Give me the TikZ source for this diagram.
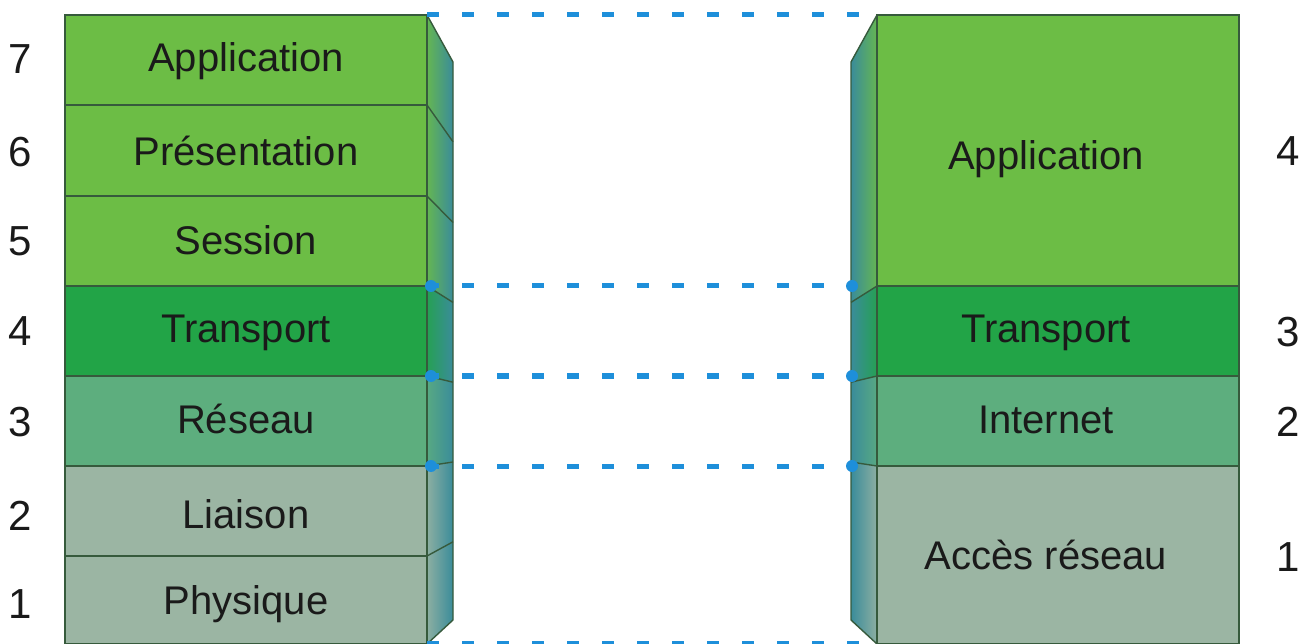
\documentclass[tikz,border=0pt]{standalone}
\usepackage{fontspec}
\setmainfont{Liberation Sans}
\definecolor{appg}{HTML}{6CBD45}
\definecolor{trg}{HTML}{22A447}
\definecolor{netg}{HTML}{5DAE7E}
\definecolor{phyg}{HTML}{9BB5A3}
\definecolor{sideteal}{HTML}{3A8C9A}
\definecolor{edgec}{HTML}{365A3C}
\definecolor{dotblue}{HTML}{1E8FDA}
\definecolor{txt}{HTML}{1A1A1A}
\begin{document}
\begin{tikzpicture}[x=1pt,y=-1pt,
  face/.style={draw=edgec, line width=1.6pt},
  edgeline/.style={draw=edgec, line width=1.4pt},
  lbl/.style={anchor=base, text=txt, inner sep=0pt, font=\fontsize{40}{44}\selectfont},
  num/.style={anchor=base, text=txt, inner sep=0pt, font=\fontsize{42}{46}\selectfont},
  link/.style={draw=dotblue, line width=5pt, dash pattern=on 12pt off 23pt},
  enddot/.style={fill=dotblue}]
\useasboundingbox (0,0) rectangle (1307,644);

% ---------- left stack (7 layers) ----------
\foreach \t/\b/\ft/\fb/\col in {15/105/62/141.8/appg, 105/196/141.8/222.5/appg, 196/286/222.5/302.4/appg, 286/376/302.4/382.2/trg, 376/466/382.2/462/netg, 466/556/462/541.8/phyg, 556/644/541.8/620/phyg}{
  \filldraw[face, fill=\col] (65,\t) rectangle (427,\b);
  \shade[left color=\col!85!sideteal, right color=sideteal] (427,\t) -- (453,\ft) -- (453,\fb) -- (427,\b) -- cycle;
  \draw[edgeline] (427,\t) -- (453,\ft);
}
\draw[edgeline] (453,62) -- (453,620) -- (427,644);
\draw[edgeline] (427,15) -- (427,644);

% ---------- right stack (4 layers) ----------
\foreach \t/\b/\ft/\fb/\col in {15/286/62/302.4/appg, 286/376/302.4/382.2/trg, 376/466/382.2/462/netg, 466/644/462/620/phyg}{
  \filldraw[face, fill=\col] (877,\t) rectangle (1239,\b);
  \shade[left color=sideteal, right color=\col!85!sideteal] (877,\t) -- (851,\ft) -- (851,\fb) -- (877,\b) -- cycle;
  \draw[edgeline] (877,\t) -- (851,\ft);
}
\draw[edgeline] (851,62) -- (851,620) -- (877,644);
\draw[edgeline] (877,15) -- (877,644);

% ---------- labels ----------
\node[lbl] (l7) at (246,72) {Application};
\node[lbl] (l6) at (246,166) {Présentation};
\node[lbl] (l5) at (246,255) {Session};
\node[lbl] (l4) at (246,343) {Transport};
\node[lbl] (l3) at (246,433) {Réseau};
\node[lbl] (l2) at (246,528) {Liaison};
\node[lbl] (l1) at (246,614) {Physique};

\node[lbl] (r4) at (1046,170) {Application};
\node[lbl] (r3) at (1046,343) {Transport};
\node[lbl] (r2) at (1046,433) {Internet};
\node[lbl] (r1) at (1046,569) {Accès réseau};

% ---------- layer numbers ----------
\node[num] (n7) at (20,74) {7};
\node[num] (n6) at (20,167) {6};
\node[num] (n5) at (20,256) {5};
\node[num] (n4) at (20,346) {4};
\node[num] (n3) at (20,436) {3};
\node[num] (n2) at (20,530) {2};
\node[num] (n1) at (20,618) {1};

\node[num] (m4) at (1288,166) {4};
\node[num] (m3) at (1288,347) {3};
\node[num] (m2) at (1288,436) {2};
\node[num] (m1) at (1288,571) {1};

% ---------- correspondence lines ----------
\coordinate (La) at (427,15);   \coordinate (Ra) at (877,15);
\coordinate (Lb) at (427,286);  \coordinate (Rb) at (851,286);
\coordinate (Lc) at (427,376);  \coordinate (Rc) at (851,376);
\coordinate (Ld) at (427,466);  \coordinate (Rd) at (851,466);
\coordinate (Le) at (427,643);  \coordinate (Re) at (877,643);

\draw[link] (La) -- (Ra);
\draw[link] (Lb) -- (Rb);
\draw[link] (Lc) -- (Rc);
\draw[link] (Ld) -- (Rd);
\draw[link] (Le) -- (Re);

\foreach \p in {Lb,Lc,Ld}{ \fill[enddot] ([xshift=4pt]\p) circle (6pt); }
\foreach \p in {Rb,Rc,Rd}{ \fill[enddot] ([xshift=1pt]\p) circle (6pt); }
\end{tikzpicture}
\end{document}
